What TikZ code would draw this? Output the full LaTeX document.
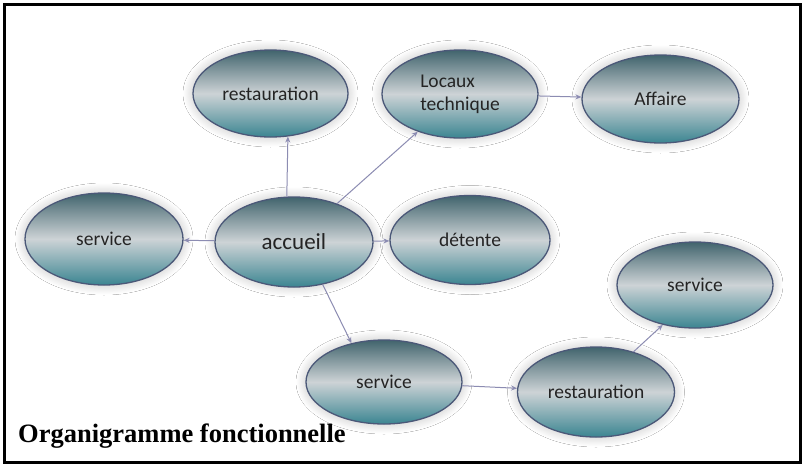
\documentclass[tikz,border=0pt]{standalone}
\usepackage{fontspec}
\setmainfont{Carlito}
\newfontfamily\titlefont{Liberation Serif}
\usetikzlibrary{shapes.geometric,arrows.meta,shadows.blur}
\definecolor{etop}{HTML}{41646D}
\definecolor{emid}{HTML}{CDD3D6}
\definecolor{ebot}{HTML}{3B8591}
\definecolor{eline}{HTML}{4B5878}
\definecolor{arrcol}{HTML}{8C8CB2}
\definecolor{txt}{HTML}{242424}
\tikzset{
  bubble/.style={ellipse, draw=eline, line width=1.3pt, inner sep=0pt,
    top color=etop, bottom color=ebot, middle color=emid,
    blur shadow={shadow xshift=0pt, shadow yshift=0pt, shadow blur radius=10pt, shadow opacity=25, shadow blur steps=24},
    text=txt, font=\fontsize{19.5}{23}\selectfont},
  conn/.style={draw=arrcol, line width=1pt, -{Stealth[length=6pt,width=5pt]}}
}
\begin{document}
\begin{tikzpicture}[x=1pt,y=-1pt]
\useasboundingbox (0,0) rectangle (805,466);
\fill[white] (0,0) rectangle (805,466);
\node[bubble, minimum width=155pt, minimum height=87pt] (rest1) at (270.5,93.5) {restauration};
\node[bubble, minimum width=156pt, minimum height=88pt, align=left] (loc) at (460,94) {Locaux\\technique};
\node[bubble, minimum width=157pt, minimum height=88pt] (aff) at (660.5,99) {Affaire};
\node[bubble, minimum width=158pt, minimum height=92pt] (serl) at (104,239) {service};
\node[bubble, minimum width=158pt, minimum height=90pt, font=\fontsize{23}{27}\selectfont] (acc) at (294,242) {accueil};
\node[bubble, minimum width=160pt, minimum height=89pt] (det) at (470,240) {détente};
\node[bubble, minimum width=156pt, minimum height=86pt] (serr) at (695,285) {service};
\node[bubble, minimum width=156pt, minimum height=84pt] (serb) at (384,382) {service};
\node[bubble, minimum width=157pt, minimum height=90pt] (rest2) at (596,392) {restauration};
\draw[conn] (acc.99) -- (rest1.-68);
\draw[conn] (acc) -- (loc);
\draw[conn] (loc) -- (aff);
\draw[conn] (acc) -- (serl);
\draw[conn] (acc) -- (det);
\draw[conn] (acc.-56) -- (serb.130);
\draw[conn] (serb) -- (rest2);
\draw[conn] (rest2.47) -- (serr.231);
\node[anchor=base west, inner sep=0pt, font=\titlefont\bfseries\fontsize{26.5}{30}\selectfont] (title) at (18,442) {Organigramme fonctionnelle};
\draw[line width=3pt] (4.5,4.5) rectangle (800.5,462);
\end{tikzpicture}
\end{document}
